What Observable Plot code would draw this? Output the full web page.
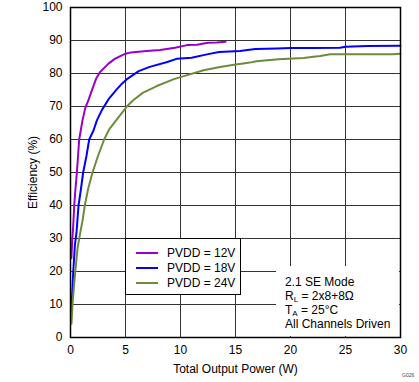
<!DOCTYPE html>
<html>
<head>
<meta charset="utf-8">
<script src="https://cdn.jsdelivr.net/npm/d3@7"></script>
<script src="https://cdn.jsdelivr.net/npm/@observablehq/plot@0.6"></script>
<style>
  html, body { margin: 0; padding: 0; background: #fff; }
  #wrap { position: relative; width: 419px; height: 382px; font-family: "Liberation Sans", Arial, sans-serif; }
  #legend { position: absolute; left: 125px; top: 238px; width: 114px; height: 55px; background: #fff; border: 1px solid #000; font-size: 12px; }
  .lrow { position: absolute; left: 0; height: 14px; line-height: 14px; }
  .lrow .sw { position: absolute; left: 10px; top: 6px; width: 22px; height: 2px; }
  .lrow .tx { position: absolute; left: 41px; top: 0; white-space: nowrap; }
  #note { position: absolute; left: 276px; top: 266px; width: 123px; height: 70px; background: #fff; font-size: 12px; line-height: 14px; }
  #note div { position: absolute; left: 9px; white-space: nowrap; }
  #note sub { font-size: 8px; vertical-align: -2px; line-height: 0; }
  #code { position: absolute; left: 402px; top: 372px; font-size: 5px; color: #444; }
</style>
</head>
<body>
<div id="wrap"></div>
<script>
// Series: PVDD = 12V
const x12 = [0.08,0.15,0.25,0.34,0.45,0.58,0.79,1.09,1.34,1.64,2.0,2.34,2.7,3.45,4.06,5.0,5.5,6.9,8.15,9.5,10.6,11.5,12.5,13.3,14.1];
const y12 = [24,29,34,40,45,50,60,65.8,69.5,72,75.4,78.5,80.5,83,84.5,86,86.4,86.8,87.1,87.8,88.6,88.7,89.3,89.4,89.6];
// Series: PVDD = 18V
const x18 = [0.04,0.1,0.18,0.25,0.4,0.55,0.73,0.95,1.15,1.45,1.7,2.1,2.4,2.85,3.5,4.2,4.7,5.1,6.2,7.2,8.8,9.7,11,12.4,13.5,15.4,16.8,18.8,20,22,24.5,25,27,30];
const y18 = [8,10,15,20,28,32,40,45,50,55,60,62.8,65.8,68.9,72.4,75.2,77,78.2,80.7,82,83.5,84.5,84.8,85.8,86.5,86.8,87.4,87.6,87.7,87.7,87.8,88.1,88.3,88.4];
// Series: PVDD = 24V
const x24 = [0.09,0.18,0.3,0.43,0.64,0.9,1.1,1.3,1.6,2.0,2.5,3.06,3.5,4.2,5.1,5.7,6.6,7.85,9.4,10.3,12.1,13.6,15,15.7,16.3,16.9,17.9,18.9,21.2,21.9,22.7,23.6,29.3,30];
const y24 = [4.2,9.8,15,19.9,27,32,35.5,40,45,50,55,60,63,66,69.9,71.9,74.2,76.2,78.3,79.2,81,82,82.7,83,83.3,83.7,84,84.3,84.7,85,85.3,85.8,85.8,86];

const seriesNames = ["PVDD = 12V", "PVDD = 18V", "PVDD = 24V"];
const seriesColors = ["#9900cc", "#0000ff", "#6e8b3d"];
const xTicks = [0, 5, 10, 15, 20, 25, 30];
const yTicks = [0, 10, 20, 30, 40, 50, 60, 70, 80, 90, 100];
const xTitle = "Total Output Power (W)";
const yTitle = "Efficiency (%)";
const noteLines = ["2.1 SE Mode", "R<sub>L</sub> = 2x8+8Ω", "T<sub>A</sub> = 25°C", "All Channels Driven"];

const allX = [x12, x18, x24], allY = [y12, y18, y24];
const data = [];
allX.forEach((xs, i) => xs.forEach((x, j) => data.push({series: seriesNames[i], x, y: allY[i][j]})));

const chart = Plot.plot({
  width: 419,
  height: 382,
  marginLeft: 70,
  marginRight: 19,
  marginTop: 7,
  marginBottom: 45,
  style: {fontFamily: '"Liberation Sans", Arial, sans-serif', fontSize: "12px", background: "#fff", color: "#000"},
  x: {domain: [0, 30]},
  y: {domain: [0, 100]},
  color: {domain: seriesNames, range: seriesColors},
  marks: [
    Plot.gridX(xTicks, {stroke: "#333", strokeOpacity: 1}),
    Plot.gridY(yTicks, {stroke: "#333", strokeOpacity: 1}),
    Plot.axisX(xTicks, {tickSize: 0, tickPadding: 8, label: xTitle, labelAnchor: "center", labelArrow: "none", labelOffset: 35, fill: "#000"}),
    Plot.axisY(yTicks, {tickSize: 0, tickPadding: 8, label: yTitle, labelAnchor: "center", labelArrow: "none", labelOffset: 42, fill: "#000"}),
    Plot.line(data, {x: "x", y: "y", z: "series", stroke: "series", strokeWidth: 2, curve: "linear"}),
    Plot.frame({stroke: "#000", strokeWidth: 1.5})
  ]
});

const wrap = document.getElementById("wrap");
wrap.appendChild(chart);

const legend = document.createElement("div");
legend.id = "legend";
seriesNames.forEach((name, i) => {
  const row = document.createElement("div");
  row.className = "lrow";
  row.style.top = (7 + i * 15) + "px";
  row.innerHTML = `<span class="sw" style="background:${seriesColors[i]}"></span><span class="tx">${name}</span>`;
  legend.appendChild(row);
});
wrap.appendChild(legend);

const note = document.createElement("div");
note.id = "note";
noteLines.forEach((t, i) => {
  const d = document.createElement("div");
  d.style.top = (9 + i * 14) + "px";
  d.innerHTML = t;
  note.appendChild(d);
});
wrap.appendChild(note);

const code = document.createElement("div");
code.id = "code";
code.textContent = "G026";
wrap.appendChild(code);
</script>
</body>
</html>
